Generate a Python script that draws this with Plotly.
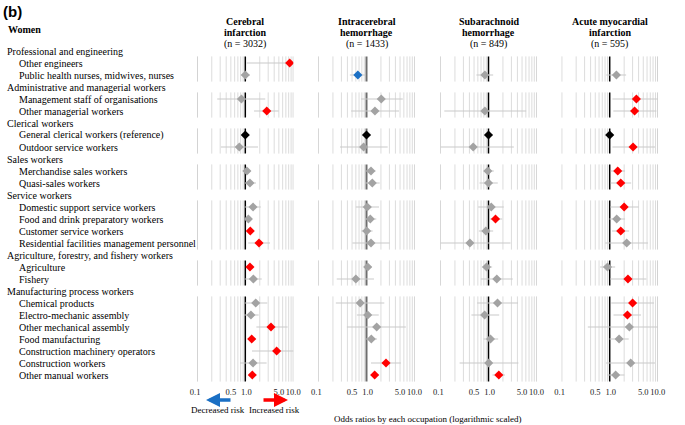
import plotly.graph_objects as go

# ---------------- data ----------------
groups = [
    "Professional and engineering",
    "Administrative and managerial workers",
    "Clerical workers",
    "Sales workers",
    "Service workers",
    "Agriculture, forestry, and fishery workers",
    "Manufacturing process workers",
]
group_items = [
    ["Other engineers", "Public health nurses, midwives, nurses"],
    ["Management staff of organisations", "Other managerial workers"],
    ["General clerical workers (reference)", "Outdoor service workers"],
    ["Merchandise sales workers", "Quasi-sales workers"],
    ["Domestic support service workers", "Food and drink preparatory workers",
     "Customer service workers", "Residential facilities management personnel"],
    ["Agriculture", "Fishery"],
    ["Chemical products", "Electro-mechanic assembly", "Other mechanical assembly",
     "Food manufacturing", "Construction machinery operators", "Construction workers",
     "Other manual workers"],
]
reference_item = "General clerical workers (reference)"

outcomes = ["Cerebral infarction", "Intracerebral hemorrhage",
            "Subarachnoid hemorrhage", "Acute myocardial infarction"]
outcome_title = [["Cerebral", "infarction"], ["Intracerebral", "hemorrhage"],
                 ["Subarachnoid", "hemorrhage"], ["Acute myocardial", "infarction"]]
outcome_n = [3032, 1433, 849, 595]

ci_or = [8.4, 1.0, 0.83, 2.8, 1.0, 0.75, 1.08, 1.25, 1.45, 1.16, 1.27, 1.93, 1.25, 1.47, 1.65, 1.31, 3.43, 1.36, 4.5, 1.45, 1.4]
ci_lo = [1.07, 0.8, 0.26, 1.52, None, 0.31, 0.97, 0.98, 0.97, 0.99, 1.1, 1.15, 1.1, 0.97, 0.97, 0.95, 1.7, 1.19, 1.38, 0.78, 1.23]
ci_hi = [12.0, 1.25, 2.6, 4.96, None, 1.84, 1.3, 1.67, 2.1, 1.38, 1.52, 3.27, 1.42, 2.2, 2.87, 1.9, 7.6, 1.67, 12.0, 2.78, 1.62]

ich_or = [None, 0.66, 2.03, 1.5, 1.0, 0.87, 1.24, 1.32, 1.04, 1.2, 1.01, 1.24, 1.06, 0.6, 0.74, 1.06, 1.63, 1.26, None, 2.55, 1.48]
ich_lo = [None, 0.45, 0.77, 0.48, None, 0.28, 0.98, 0.96, 0.6, 0.96, 0.78, 0.51, 0.95, 0.24, 0.23, 0.63, 0.39, 0.98, None, 1.24, 1.22]
ich_hi = [None, 0.94, 5.7, 4.75, None, 2.76, 1.55, 1.88, 1.82, 1.6, 1.34, 3.04, 1.28, 1.43, 2.35, 1.8, 6.6, 1.66, None, 5.2, 1.8]

sah_or = [None, 0.84, None, 0.84, 1.0, 0.48, 0.97, 1.0, 1.14, 1.4, 0.88, 0.41, 0.91, 1.49, 1.54, 0.83, None, 1.1, None, 1.01, 1.64]
sah_lo = [None, 0.56, None, 0.12, None, 0.09, 0.78, 0.65, 0.61, 1.07, 0.63, 0.09, 0.74, 0.69, 0.58, 0.44, None, 0.79, None, 0.25, 1.21]
sah_hi = [None, 1.25, None, 6.1, None, 3.37, 1.29, 1.56, 2.08, 1.93, 1.25, 2.87, 1.19, 3.2, 4.1, 1.67, None, 1.59, None, 4.2, 2.2]

ami_or = [None, 1.38, 3.6, 3.3, 1.0, 3.07, 1.47, 1.7, 2.0, 1.4, 1.7, 2.26, 0.9, 2.4, 3.0, 2.34, 2.57, 1.57, None, 2.74, 1.33]
ami_lo = [None, 0.85, 1.14, 1.19, None, 1.14, 1.05, 1.05, 1.03, 0.99, 1.12, 0.81, 0.63, 1.02, 1.08, 1.2, 0.35, 0.99, None, 0.84, 0.88]
ami_hi = [None, 2.2, 11.0, 9.4, None, 8.8, 2.09, 2.8, 4.0, 2.09, 2.54, 6.3, 1.3, 5.8, 8.4, 4.5, 11.0, 2.49, None, 8.8, 2.02]

series = [(ci_or, ci_lo, ci_hi), (ich_or, ich_lo, ich_hi),
          (sah_or, sah_lo, sah_hi), (ami_or, ami_lo, ami_hi)]

tick_vals = [0.1, 0.5, 1, 5, 10]
tick_text = ["0.1", "0.5", "1.0", "5.0", "10.0"]
grid_vals = [0.1, 0.2, 0.3, 0.4, 0.5, 0.6, 0.7, 0.8, 0.9, 2, 3, 4, 5, 6, 7, 8, 9, 10]

# ---------------- layout helpers ----------------
W, H = 685, 425
SERIF = "Liberation Serif, Times New Roman, serif"
RED, BLUE, GREY, BLACK = "#ff0000", "#1a6fc4", "#a3a3a3", "#000000"
CI_COL = "#c9c9c9"
NB = "\u00a0"
# small visual nudges of tick labels (leading, trailing non-breaking spaces)
tick_pad = {"0.1": (0, 2), "1.0": (1, 0)}
tick_disp = [NB * tick_pad.get(t, (0, 0))[0] + t + NB * tick_pad.get(t, (0, 0))[1] for t in tick_text]

rows = []
item_y = []
block_ranges = []
for g, items in zip(groups, group_items):
    rows.append((g, True))
    first = len(rows)
    for it in items:
        item_y.append(len(rows))
        rows.append((it, False))
    block_ranges.append((first, len(rows) - 1))
flat_items = [it for items in group_items for it in items]
nrows = len(rows)

def py(p):
    return 1 - p / H

def px(p):
    return p / W

row0_px, row_step = 51.0, 12.0
ypad = 0.6
y_top_px = row0_px - ypad * row_step
y_bot_px = row0_px + (nrows - 1 + ypad) * row_step

panel_px = [(197.3, 293.3), (318.5, 414.5), (440.5, 536.5), (561.7, 657.7)]

fig = go.Figure()
layout = dict(
    width=W, height=H, autosize=False,
    margin=dict(l=0, r=0, t=0, b=0, pad=0, autoexpand=False),
    paper_bgcolor="white", plot_bgcolor="white", showlegend=False,
    font=dict(family=SERIF, size=10, color="black"),
    yaxis=dict(domain=[py(y_bot_px), py(y_top_px)], range=[nrows - 1 + ypad, -ypad],
               visible=False, fixedrange=True, automargin=False),
)
annotations = []

for k, (o_v, lo_v, hi_v) in enumerate(series):
    xa = "x" if k == 0 else f"x{k+1}"
    key = "xaxis" if k == 0 else f"xaxis{k+1}"
    layout[key] = dict(
        type="log", range=[-1, 1], domain=[px(panel_px[k][0]), px(panel_px[k][1])],
        anchor="y", showgrid=False, zeroline=False, showline=False, ticks="",
        tickvals=tick_vals, ticktext=tick_disp, tickangle=0, automargin=False,
        ticklabelstandoff=3,
        tickfont=dict(family=SERIF, size=8.5, color="#222"),
    )
    gx_light, gy_light, gx_edge, gy_edge, rx, ry = [], [], [], [], [], []
    for (b0, b1) in block_ranges:
        t, b = b0 - 0.55, b1 + 0.55
        for v in grid_vals:
            if v in (0.1, 10):
                gx_edge += [v, v, None]; gy_edge += [t, b, None]
            else:
                gx_light += [v, v, None]; gy_light += [t, b, None]
        rx += [1, 1, None]; ry += [t, b, None]
    fig.add_trace(go.Scatter(x=gx_light, y=gy_light, mode="lines", xaxis=xa, yaxis="y",
                             line=dict(color="#dcdcdc", width=1), hoverinfo="skip"))
    fig.add_trace(go.Scatter(x=gx_edge, y=gy_edge, mode="lines", xaxis=xa, yaxis="y",
                             line=dict(color="#b0b0b0", width=1), hoverinfo="skip"))
    ref_col, ref_w = (BLACK, 1.5) if k != 1 else ("#6e6e6e", 2)
    fig.add_trace(go.Scatter(x=rx, y=ry, mode="lines", xaxis=xa, yaxis="y",
                             line=dict(color=ref_col, width=ref_w), hoverinfo="skip"))
    cx, cy = [], []
    for i, (o, lo, hi) in enumerate(zip(o_v, lo_v, hi_v)):
        if o is None or lo is None:
            continue
        cx += [lo, hi, None]; cy += [item_y[i], item_y[i], None]
    fig.add_trace(go.Scatter(x=cx, y=cy, mode="lines", xaxis=xa, yaxis="y",
                             line=dict(color=CI_COL, width=1.2), hoverinfo="skip"))
    mx, my, mc = [], [], []
    for i, (o, lo, hi) in enumerate(zip(o_v, lo_v, hi_v)):
        if o is None:
            continue
        if flat_items[i] == reference_item:
            c = BLACK
        elif lo is not None and lo > 1:
            c = RED
        elif hi is not None and hi < 1:
            c = BLUE
        else:
            c = GREY
        mx.append(o); my.append(item_y[i]); mc.append(c)
    fig.add_trace(go.Scatter(x=mx, y=my, mode="markers", xaxis=xa, yaxis="y",
                             marker=dict(symbol="diamond", size=7, color=mc, line=dict(width=0)),
                             hoverinfo="x+y"))
    cxp = px((panel_px[k][0] + panel_px[k][1]) / 2)
    lines = ["<b>%s</b>" % outcome_title[k][0], "<b>%s</b>" % outcome_title[k][1],
             "(n = %d)" % outcome_n[k]]
    for j, ln in enumerate(lines):
        annotations.append(dict(text=ln, x=cxp, y=py(22 + 11 * j), xref="paper", yref="paper",
                                xanchor="center", yanchor="middle", showarrow=False,
                                font=dict(family=SERIF, size=10, color="black")))

for i, (lab, is_h) in enumerate(rows):
    annotations.append(dict(text=lab, x=px(5 if is_h else 17), y=i, xref="paper", yref="y",
                            xanchor="left", yanchor="middle", showarrow=False,
                            font=dict(family=SERIF, size=10, color="black")))

annotations += [
    dict(text="<b>(b)</b>", x=px(1), y=py(12), xref="paper", yref="paper", xanchor="left",
         yanchor="middle", showarrow=False,
         font=dict(family="Liberation Sans, Arial, sans-serif", size=15, color="black")),
    dict(text="<b>Women</b>", x=px(6), y=py(30), xref="paper", yref="paper", xanchor="left",
         yanchor="middle", showarrow=False, font=dict(family=SERIF, size=10, color="black")),
    dict(text="", x=px(206), y=py(400), ax=26, ay=0, xref="paper", yref="paper",
         showarrow=True, arrowhead=2, arrowsize=0.8, arrowwidth=3.5, arrowcolor=BLUE),
    dict(text="", x=px(288), y=py(400), ax=-26, ay=0, xref="paper", yref="paper",
         showarrow=True, arrowhead=2, arrowsize=0.8, arrowwidth=3.5, arrowcolor=RED),
    dict(text="Decreased risk", x=px(218), y=py(410), xref="paper", yref="paper",
         xanchor="center", yanchor="middle", showarrow=False,
         font=dict(family=SERIF, size=9, color="black")),
    dict(text="Increased risk", x=px(274), y=py(410), xref="paper", yref="paper",
         xanchor="center", yanchor="middle", showarrow=False,
         font=dict(family=SERIF, size=9, color="black")),
    dict(text="Odds ratios by each occupation (logarithmic scaled)", x=px(427), y=py(419),
         xref="paper", yref="paper", xanchor="center", yanchor="middle", showarrow=False,
         font=dict(family=SERIF, size=9, color="black")),
]
layout["annotations"] = annotations
fig.update_layout(**layout)
fig.write_html("out.html", config={"displayModeBar": False},
               post_script="document.body.style.margin='0px';document.body.style.overflow='hidden';")
